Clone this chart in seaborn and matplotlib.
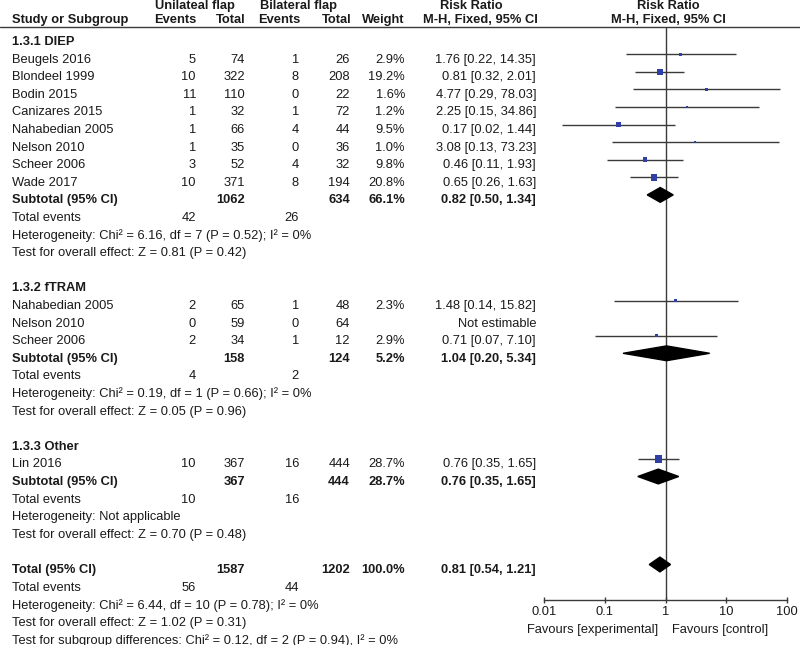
import numpy as np
import pandas as pd
import seaborn as sns
import matplotlib.pyplot as plt

# study level data
study_names = ["Beugels 2016", "Blondeel 1999", "Bodin 2015", "Canizares 2015",
               "Nahabedian 2005", "Nelson 2010", "Scheer 2006", "Wade 2017",
               "Nahabedian 2005", "Nelson 2010", "Scheer 2006",
               "Lin 2016"]
study_group = [0] * 8 + [1] * 3 + [2]
uni_events = [5, 10, 11, 1, 1, 1, 3, 10, 2, 0, 2, 10]
uni_total = [74, 322, 110, 32, 66, 35, 52, 371, 65, 59, 34, 367]
bi_events = [1, 8, 0, 1, 4, 0, 4, 8, 1, 0, 1, 16]
bi_total = [26, 208, 22, 72, 44, 36, 32, 194, 48, 64, 12, 444]
weight = [2.9, 19.2, 1.6, 1.2, 9.5, 1.0, 9.8, 20.8, 2.3, np.nan, 2.9, 28.7]
rr = [1.76, 0.81, 4.77, 2.25, 0.17, 3.08, 0.46, 0.65, 1.48, np.nan, 0.71, 0.76]
rr_lo = [0.22, 0.32, 0.29, 0.15, 0.02, 0.13, 0.11, 0.26, 0.14, np.nan, 0.07, 0.35]
rr_hi = [14.35, 2.01, 78.03, 34.86, 1.44, 73.23, 1.93, 1.63, 15.82, np.nan, 7.10, 1.65]

# subgroup data
group_labels = ["1.3.1 DIEP", "1.3.2 fTRAM", "1.3.3 Other"]
sub_uni_total = [1062, 158, 367]
sub_bi_total = [634, 124, 444]
sub_uni_events = [42, 4, 10]
sub_bi_events = [26, 2, 16]
sub_weight = [66.1, 5.2, 28.7]
sub_rr = [0.82, 1.04, 0.76]
sub_lo = [0.50, 0.20, 0.35]
sub_hi = [1.34, 5.34, 1.65]
sub_het = ["Heterogeneity: Chi² = 6.16, df = 7 (P = 0.52); I² = 0%",
           "Heterogeneity: Chi² = 0.19, df = 1 (P = 0.66); I² = 0%",
           "Heterogeneity: Not applicable"]
sub_test = ["Test for overall effect: Z = 0.81 (P = 0.42)",
            "Test for overall effect: Z = 0.05 (P = 0.96)",
            "Test for overall effect: Z = 0.70 (P = 0.48)"]

# overall
tot_uni_total, tot_bi_total = 1587, 1202
tot_uni_events, tot_bi_events = 56, 44
tot_weight = 100.0
tot_rr, tot_lo, tot_hi = 0.81, 0.54, 1.21
tot_het = "Heterogeneity: Chi² = 6.44, df = 10 (P = 0.78); I² = 0%"
tot_test = "Test for overall effect: Z = 1.02 (P = 0.31)"
tot_subdiff = "Test for subgroup differences: Chi² = 0.12, df = 2 (P = 0.94), I² = 0%"

tick_vals = [0.01, 0.1, 1, 10, 100]
tick_labels = ["0.01", "0.1", "1", "10", "100"]

sns.set_theme(style="white")
plt.rcParams['font.family'] = ['Liberation Sans', 'DejaVu Sans']
FS = 9.3
TXT = '#1a1a1a'
BLUE = '#2f3fa3'
LINE = '#3a3a3a'

W, H = 800, 645
ROW0, STEP = 42, 17.6          # text rows in pixels
FROW0 = 36.5                   # forest rows sit slightly higher
fig = plt.figure(figsize=(W / 100, H / 100), dpi=100)

# text layer in pixel units
axt = fig.add_axes([0, 0, 1, 1])
axt.set_xlim(0, W)
axt.set_ylim(H, 0)
axt.axis('off')

def py(r):
    return ROW0 + STEP * r

def put(x, r, s, ha='right', bold=False):
    axt.text(x, py(r), s, ha=ha, va='center', fontsize=FS, color=TXT,
             fontweight='bold' if bold else 'normal')

COLS = [196, 245, 299, 350, 405, 536]

# header
hy1, hy2 = 6, 20
for s, x in [("Unilateal flap", 195), ("Bilateral flap", 298),
             ("Risk Ratio", 471), ("Risk Ratio", 668)]:
    axt.text(x, hy1, s, ha='center', va='center', fontsize=FS, fontweight='bold', color=TXT)
axt.text(12, hy2, "Study or Subgroup", ha='left', va='center', fontsize=FS, fontweight='bold', color=TXT)
for s, x in [("Events", 196), ("Total", 246), ("Events", 300), ("Total", 351),
             ("Weight", 404), ("M-H, Fixed, 95% CI", 538)]:
    axt.text(x, hy2, s, ha='right', va='center', fontsize=FS, fontweight='bold', color=TXT)
axt.text(668, hy2, "M-H, Fixed, 95% CI", ha='center', va='center', fontsize=FS, fontweight='bold', color=TXT)
axt.plot([0, W], [27, 27], color=LINE, lw=1)

# build row layout
rows = []
diamonds = []
r = 0
for g, glab in enumerate(group_labels):
    put(12, r, glab, ha='left', bold=True)
    r += 1
    for i in range(len(study_names)):
        if study_group[i] != g:
            continue
        put(12, r, study_names[i], ha='left')
        put(COLS[0], r, str(uni_events[i]))
        put(COLS[1], r, str(uni_total[i]))
        put(COLS[2], r, str(bi_events[i]))
        put(COLS[3], r, str(bi_total[i]))
        if np.isnan(rr[i]):
            put(COLS[5], r, "Not estimable")
        else:
            put(COLS[4], r, f"{weight[i]:.1f}%")
            put(COLS[5], r, f"{rr[i]:.2f} [{rr_lo[i]:.2f}, {rr_hi[i]:.2f}]")
            rows.append(dict(row=r, rr=rr[i], lo=rr_lo[i], hi=rr_hi[i], weight=weight[i]))
        r += 1
    put(12, r, "Subtotal (95% CI)", ha='left', bold=True)
    put(COLS[1], r, str(sub_uni_total[g]), bold=True)
    put(COLS[3], r, str(sub_bi_total[g]), bold=True)
    put(COLS[4], r, f"{sub_weight[g]:.1f}%", bold=True)
    put(COLS[5], r, f"{sub_rr[g]:.2f} [{sub_lo[g]:.2f}, {sub_hi[g]:.2f}]", bold=True)
    diamonds.append((r, sub_rr[g], sub_lo[g], sub_hi[g]))
    r += 1
    put(12, r, "Total events", ha='left')
    put(COLS[0], r, str(sub_uni_events[g]))
    put(COLS[2], r, str(sub_bi_events[g]))
    r += 1
    put(12, r, sub_het[g], ha='left')
    r += 1
    put(12, r, sub_test[g], ha='left')
    r += 2

put(12, r, "Total (95% CI)", ha='left', bold=True)
put(COLS[1], r, str(tot_uni_total), bold=True)
put(COLS[3], r, str(tot_bi_total), bold=True)
put(COLS[4], r, f"{tot_weight:.1f}%", bold=True)
put(COLS[5], r, f"{tot_rr:.2f} [{tot_lo:.2f}, {tot_hi:.2f}]", bold=True)
diamonds.append((r, tot_rr, tot_lo, tot_hi))
r += 1
put(12, r, "Total events", ha='left')
put(COLS[0], r, str(tot_uni_events))
put(COLS[2], r, str(tot_bi_events))
put(12, r + 1, tot_het, ha='left')
put(12, r + 2, tot_test, ha='left')
put(12, r + 3, tot_subdiff, ha='left')

df = pd.DataFrame(rows)

# forest panel
x0, x1 = 544, 787
ytop, ybot = 28, 600
ax = fig.add_axes([x0 / W, (H - ybot) / H, (x1 - x0) / W, (ybot - ytop) / H])
ax.set_xscale('log')
ax.set_xlim(0.01, 100)
ax.set_ylim((ybot - FROW0) / STEP, (ytop - FROW0) / STEP)
ax.patch.set_alpha(0)
ax.axvline(1, color=LINE, lw=1)
ax.hlines(df['row'], df['lo'], df['hi'], color=LINE, lw=1, clip_on=False)
sns.scatterplot(data=df, x='rr', y='row', size='weight', sizes=(2, 30), size_norm=(0, 30),
                marker='s', color=BLUE, edgecolor='none', legend=False, ax=ax, zorder=3)
for (dr, est, lo, hi) in diamonds:
    ax.fill([lo, est, hi, est], [dr, dr - 0.42, dr, dr + 0.42], color='black', zorder=4)

for sp in ['left', 'right', 'top']:
    ax.spines[sp].set_visible(False)
ax.spines['bottom'].set_color(LINE)
ax.spines['bottom'].set_linewidth(1)
ax.set_xticks(tick_vals)
ax.set_xticklabels(tick_labels, fontsize=FS, color=TXT)
ax.xaxis.set_minor_locator(plt.NullLocator())
ax.set_yticks([])
ax.tick_params(axis='x', direction='inout', length=5, width=1, color=LINE, pad=2, bottom=True)
ax.set_xlabel('')
ax.set_ylabel('')

axt.text(658, 630, "Favours [experimental]", ha='right', va='center', fontsize=FS, color=TXT)
axt.text(672, 630, "Favours [control]", ha='left', va='center', fontsize=FS, color=TXT)

fig.savefig('out.png', dpi=100)
